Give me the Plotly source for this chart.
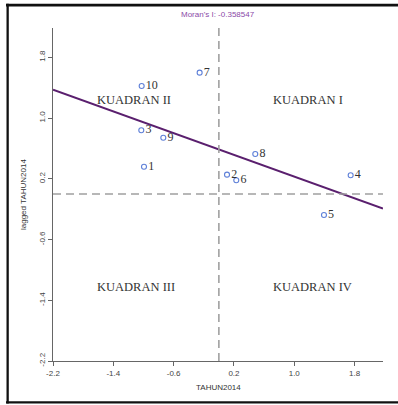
import numpy as np
import plotly.graph_objects as go

# Data (standardized TAHUN2014 vs spatially lagged values)
region_ids = ["1", "2", "3", "4", "5", "6", "7", "8", "9", "10"]
tahun2014 = [-0.993, 0.108, -1.029, 1.748, 1.394, 0.231, -0.255, 0.483, -0.737, -1.024]
lagged_tahun2014 = [0.360, 0.255, 0.840, 0.247, -0.276, 0.181, 1.599, 0.527, 0.742, 1.423]
tick_values = [-2.2, -1.4, -0.6, 0.2, 1.0, 1.8]
tick_labels = ["-2.2", "-1.4", "-0.6", "0.2", "1.0", "1.8"]
quadrant_names = ["KUADRAN I", "KUADRAN II", "KUADRAN III", "KUADRAN IV"]
moran_label = "Moran's I: -0.358547"

x = np.array(tahun2014)
y = np.array(lagged_tahun2014)
slope, intercept = np.polyfit(x, y, 1)

xr = [-2.2, 2.177]
yr = [-2.2, 2.187]

fig = go.Figure()

# Reference dashed lines at 0
fig.add_shape(type="line", x0=0, x1=0, y0=-2.2, y1=yr[1], xref="x", yref="y",
              line=dict(color="#a0a0a0", width=1.6, dash="8px,5px"))
fig.add_shape(type="line", x0=-2.2, x1=xr[1], y0=0, y1=0, xref="x", yref="y",
              line=dict(color="#a0a0a0", width=1.6, dash="8px,5px"))

# Regression line
lx = np.array(xr)
fig.add_trace(go.Scatter(x=lx, y=intercept + slope * lx, mode="lines",
                         line=dict(color="#5a1f6e", width=2.2), hoverinfo="skip",
                         showlegend=False, cliponaxis=True))

# Points
fig.add_trace(go.Scatter(x=x, y=y, mode="markers+text", text=region_ids,
                         textposition="middle right",
                         textfont=dict(family="Liberation Serif", size=12, color="#333333"),
                         marker=dict(symbol="circle-open", size=5, color="#5f80d8",
                                     line=dict(width=1.1, color="#5f80d8")),
                         showlegend=False))

# Quadrant labels
quad_pos = [(1.18, 1.24), (-1.13, 1.24), (-1.10, -1.225), (1.24, -1.225)]
for name, (qx, qy) in zip(quadrant_names, quad_pos):
    fig.add_annotation(x=qx, y=qy, xref="x", yref="y", text=name, showarrow=False,
                       font=dict(family="Liberation Serif", size=12.5, color="#333333"))

px = lambda p: (p - 53) / 330
py = lambda p: (361 - p) / 333

# Title and axis titles
fig.add_annotation(x=px(218), y=py(14), xref="paper", yref="paper",
                   xanchor="center", yanchor="middle",
                   text=moran_label, showarrow=False,
                   font=dict(family="Liberation Sans", size=8, color="#8a4aa8"))
fig.add_annotation(x=px(218), y=py(387), xref="paper", yref="paper",
                   xanchor="center", yanchor="middle",
                   text="TAHUN2014", showarrow=False,
                   font=dict(family="Liberation Sans", size=8, color="#333333"))
fig.add_annotation(x=px(23), y=py(195), xref="paper", yref="paper",
                   xanchor="center", yanchor="middle",
                   text="lagged TAHUN2014", showarrow=False, textangle=-90,
                   font=dict(family="Liberation Sans", size=8, color="#333333"))

# Outer frame: filled thin bars (top, left, bottom)
for (a, b, c, d) in [(6, 398, 3.8, 6.6), (6.5, 8.8, 3.8, 403.5), (6, 398, 401.3, 403.5)]:
    fig.add_shape(type="rect", xref="paper", yref="paper",
                  x0=px(a), x1=px(b), y0=py(c), y1=py(d),
                  line=dict(width=0), fillcolor="#111111", layer="above")

axis_common = dict(
    tickmode="array", tickvals=tick_values, ticktext=tick_labels,
    showgrid=False, zeroline=False, showline=True, linecolor="#666666", linewidth=1,
    ticks="outside", ticklen=4, tickcolor="#666666",
    tickfont=dict(family="Liberation Sans", size=8, color="#444444"),
)
fig.update_xaxes(range=xr, **axis_common)
fig.update_yaxes(range=yr, tickangle=-90, **axis_common)

fig.update_layout(
    width=398, height=405,
    margin=dict(l=53, r=15, t=28, b=44),
    plot_bgcolor="white", paper_bgcolor="white",
    showlegend=False,
)

fig.write_html("out.html", config={"displayModeBar": False})

# remove default page margins so the figure sits at the window's top-left corner
with open("out.html", "r", encoding="utf-8") as f:
    html = f.read()
html = html.replace("<head>", "<head><style>html,body{margin:0;padding:0;overflow:hidden;}</style>", 1)
with open("out.html", "w", encoding="utf-8") as f:
    f.write(html)
